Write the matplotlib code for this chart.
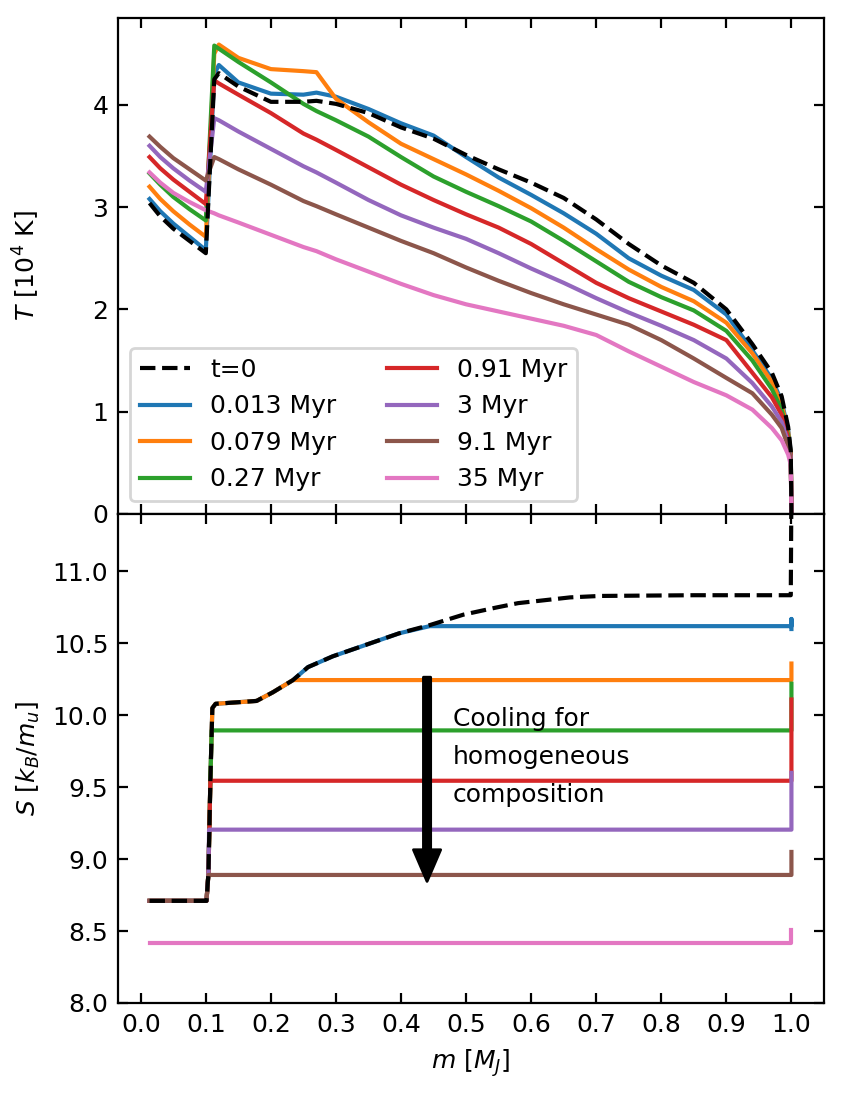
import numpy as np
import matplotlib
matplotlib.use("Agg")
import matplotlib.pyplot as plt

# mass grid for the temperature profiles [M_J]
m_T = [0.0135, 0.03, 0.05, 0.075, 0.100, 0.113, 0.12, 0.15, 0.2, 0.25, 0.27,
       0.3, 0.35, 0.4, 0.45, 0.5, 0.55, 0.6, 0.65, 0.7, 0.75, 0.8, 0.85,
       0.9, 0.94, 0.97, 0.985, 0.995, 0.999, 1.0]

# temperature [10^4 K]
T_t0 = [3.04, 2.91, 2.79, 2.67, 2.55, 4.25, 4.31, 4.18, 4.03, 4.03, 4.04,
        4.01, 3.92, 3.78, 3.67, 3.51, 3.37, 3.24, 3.09, 2.88, 2.64, 2.43, 2.26,
        2.00, 1.66, 1.38, 1.15, 0.85, 0.62, 0.0]
T_0013 = [3.08, 2.96, 2.84, 2.71, 2.58, 4.30, 4.39, 4.22, 4.11, 4.10, 4.12,
          4.08, 3.96, 3.82, 3.70, 3.49, 3.29, 3.12, 2.94, 2.74, 2.50, 2.33, 2.19,
          1.95, 1.60, 1.32, 1.10, 0.82, 0.60, 0.0]
T_0079 = [3.20, 3.08, 2.96, 2.83, 2.71, 4.50, 4.59, 4.46, 4.35, 4.33, 4.32,
          4.06, 3.83, 3.62, 3.47, 3.32, 3.16, 2.99, 2.80, 2.59, 2.39, 2.22, 2.08,
          1.87, 1.57, 1.29, 1.07, 0.80, 0.59, 0.0]
T_027 = [3.33, 3.22, 3.10, 2.98, 2.87, 4.58, 4.55, 4.42, 4.22, 4.01, 3.94,
         3.85, 3.69, 3.49, 3.30, 3.15, 3.01, 2.86, 2.67, 2.47, 2.27, 2.12, 1.99,
         1.79, 1.50, 1.22, 1.02, 0.77, 0.58, 0.0]
T_091 = [3.49, 3.38, 3.27, 3.15, 3.03, 4.24, 4.21, 4.10, 3.92, 3.72, 3.66,
         3.56, 3.39, 3.22, 3.07, 2.93, 2.80, 2.64, 2.45, 2.26, 2.11, 1.98, 1.85,
         1.70, 1.38, 1.14, 0.97, 0.74, 0.57, 0.0]
T_3 = [3.60, 3.49, 3.38, 3.26, 3.15, 3.87, 3.85, 3.74, 3.57, 3.40, 3.34,
       3.24, 3.07, 2.92, 2.80, 2.69, 2.55, 2.40, 2.26, 2.11, 1.97, 1.84, 1.70,
       1.52, 1.28, 1.05, 0.90, 0.70, 0.55, 0.0]
T_91 = [3.69, 3.59, 3.48, 3.37, 3.26, 3.49, 3.47, 3.37, 3.22, 3.06, 3.01,
        2.93, 2.80, 2.67, 2.55, 2.41, 2.28, 2.16, 2.05, 1.95, 1.85, 1.70, 1.52,
        1.33, 1.18, 0.97, 0.84, 0.66, 0.53, 0.0]
T_35 = [3.34, 3.24, 3.14, 3.05, 2.97, 2.94, 2.92, 2.85, 2.73, 2.61, 2.57,
        2.49, 2.37, 2.25, 2.14, 2.05, 1.98, 1.91, 1.84, 1.75, 1.59, 1.44, 1.29,
        1.16, 1.02, 0.84, 0.72, 0.58, 0.48, 0.0]

# entropy profile at t=0 [k_B/m_u]
m_S = [0.0135, 0.101, 0.104, 0.107, 0.110, 0.115, 0.178, 0.203, 0.234, 0.257,
       0.295, 0.346, 0.397, 0.444, 0.496, 0.547, 0.58, 0.62, 0.66, 0.706,
       0.85, 0.999, 1.0]
S_t0 = [8.71, 8.71, 8.90, 9.55, 10.05, 10.08, 10.10, 10.16, 10.245, 10.335,
        10.41, 10.49, 10.57, 10.627, 10.70, 10.75, 10.78, 10.80, 10.82, 10.83,
        10.835, 10.835, 11.6]

# later times: homogeneous entropy level, mass where it leaves the t=0 profile,
# and the values at the outer boundary
S_level = [10.62, 10.245, 9.895, 9.545, 9.205, 8.89, 8.415]
m_leave = [0.444, 0.234, 0.109, 0.107, 0.105, 0.104, 0.0135]
S_edge = [[10.67, 10.60], [10.36], [10.22], [10.11], [9.60], [9.05], [8.51]]

labels = ["0.013 Myr", "0.079 Myr", "0.27 Myr", "0.91 Myr",
          "3 Myr", "9.1 Myr", "35 Myr"]
T_later = [T_0013, T_0079, T_027, T_091, T_3, T_91, T_35]

plt.rcParams.update({
    "font.family": "DejaVu Sans",
    "font.size": 9,
    "xtick.direction": "in",
    "ytick.direction": "in",
    "xtick.top": True,
    "ytick.right": True,
})

fig, (ax1, ax2) = plt.subplots(
    2, 1, sharex=True, figsize=(4.235, 5.48), dpi=200,
    gridspec_kw={"height_ratios": [496, 489], "hspace": 0})
fig.subplots_adjust(left=0.1393, right=0.9728, top=0.9836, bottom=0.0849)

# temperature
ax1.plot(m_T, T_t0, "k--", lw=1.5, label="t=0", zorder=3)
for i, (lab, T) in enumerate(zip(labels, T_later)):
    ax1.plot(m_T, T, color=f"C{i}", lw=1.5, label=lab)
ax1.set_ylim(0, 4.85)
ax1.set_yticks([0, 1, 2, 3, 4])
ax1.set_ylabel(r"$T$ [$10^4$ K]")
ax1.legend(ncol=2, loc="lower left")

# entropy
mS = np.array(m_S)
sS = np.array(S_t0)
ax2.plot(mS, sS, "k--", lw=1.5, zorder=3)
for i, (lev, ml, edge) in enumerate(zip(S_level, m_leave, S_edge)):
    keep = mS < ml
    mm = np.r_[mS[keep], ml, 1.0, [1.0] * len(edge)]
    ss = np.r_[sS[keep], lev, lev, edge]
    ax2.plot(mm, ss, color=f"C{i}", lw=1.5)

ax2.annotate("", xy=(0.44, 8.845), xytext=(0.44, 10.265),
             arrowprops=dict(width=2.6, headwidth=9.8, headlength=11.4,
                             color="k", shrink=0.0))
ax2.text(0.48, 9.71, "Cooling for\nhomogeneous\ncomposition",
         ha="left", va="center", linespacing=1.75)

ax2.set_ylim(8.0, 11.4)
ax2.set_yticks(np.arange(8.0, 11.01, 0.5))
ax2.set_xlim(-0.035, 1.05)
ax2.set_xticks(np.arange(0, 1.01, 0.1))
ax2.set_xlabel(r"$m$ [$M_J$]")
ax2.set_ylabel(r"$S$ [$k_B/m_u$]")

fig.align_ylabels([ax1, ax2])

plt.savefig("out.png", dpi=200)
